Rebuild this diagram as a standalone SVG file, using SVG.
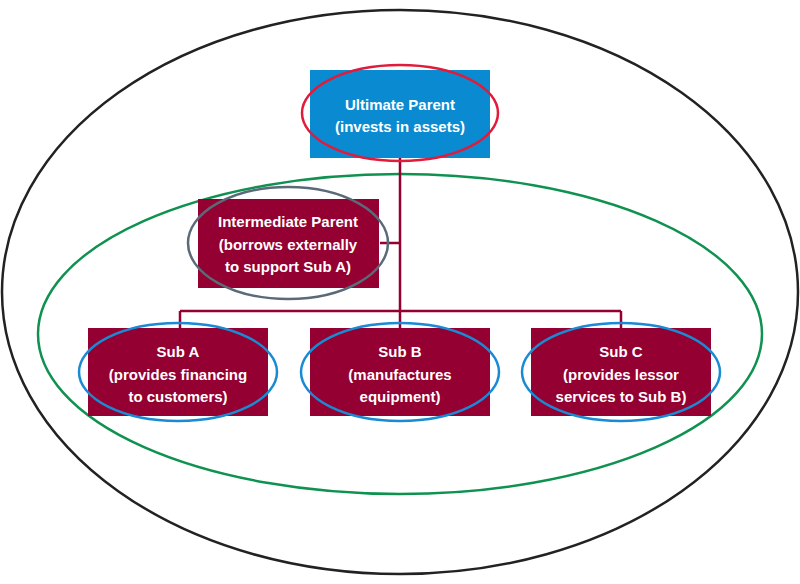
<svg xmlns="http://www.w3.org/2000/svg" width="800" height="584" viewBox="0 0 800 584">
<style>
.box{fill:#930031}
.t{fill:#fff;font-family:"Liberation Sans",Arial,sans-serif;font-weight:bold;font-size:15px;text-anchor:middle}
.ln{stroke:#930031;stroke-width:2.5;fill:none}
.ring{fill:none;stroke-width:2.5}
</style>
<rect width="800" height="584" fill="#fff"/>
<ellipse cx="400" cy="292" rx="398" ry="282" class="ring" stroke="#222"/>
<ellipse cx="400" cy="334" rx="362" ry="160" class="ring" stroke="#0f9150"/>
<g id="connectors">
<path class="ln" d="M400 158V328M380 243H400M180 311H621M180 311V328M621 311V328"/>
</g>
<g id="ultimate">
<rect x="310" y="70" width="180" height="88" fill="#0a8ad0"/>
<text class="t" x="400" y="110">Ultimate Parent</text>
<text class="t" x="400" y="132">(invests in assets)</text>
<ellipse cx="400" cy="113" rx="98" ry="48" class="ring" stroke="#e11b3a"/>
</g>
<g id="intermediate">
<rect x="198" y="199" width="181" height="89" class="box"/>
<text class="t" x="288" y="227">Intermediate Parent</text>
<text class="t" x="288" y="250">(borrows externally</text>
<text class="t" x="288" y="272">to support Sub A)</text>
<ellipse cx="288" cy="243" rx="100" ry="56" class="ring" stroke="#5a6a78"/>
</g>
<g id="subA">
<rect x="88" y="328" width="180" height="88" class="box"/>
<text class="t" x="178" y="357">Sub A</text>
<text class="t" x="178" y="380">(provides financing</text>
<text class="t" x="178" y="402">to customers)</text>
<ellipse cx="178" cy="372" rx="99" ry="49" class="ring" stroke="#1a8ad4"/>
</g>
<g id="subB">
<rect x="310" y="328" width="180" height="88" class="box"/>
<text class="t" x="400" y="357">Sub B</text>
<text class="t" x="400" y="380">(manufactures</text>
<text class="t" x="400" y="402">equipment)</text>
<ellipse cx="400" cy="372" rx="99" ry="49" class="ring" stroke="#1a8ad4"/>
</g>
<g id="subC">
<rect x="531" y="328" width="180" height="88" class="box"/>
<text class="t" x="621" y="357">Sub C</text>
<text class="t" x="621" y="380">(provides lessor</text>
<text class="t" x="621" y="402">services to Sub B)</text>
<ellipse cx="621" cy="372" rx="99" ry="49" class="ring" stroke="#1a8ad4"/>
</g>
</svg>
